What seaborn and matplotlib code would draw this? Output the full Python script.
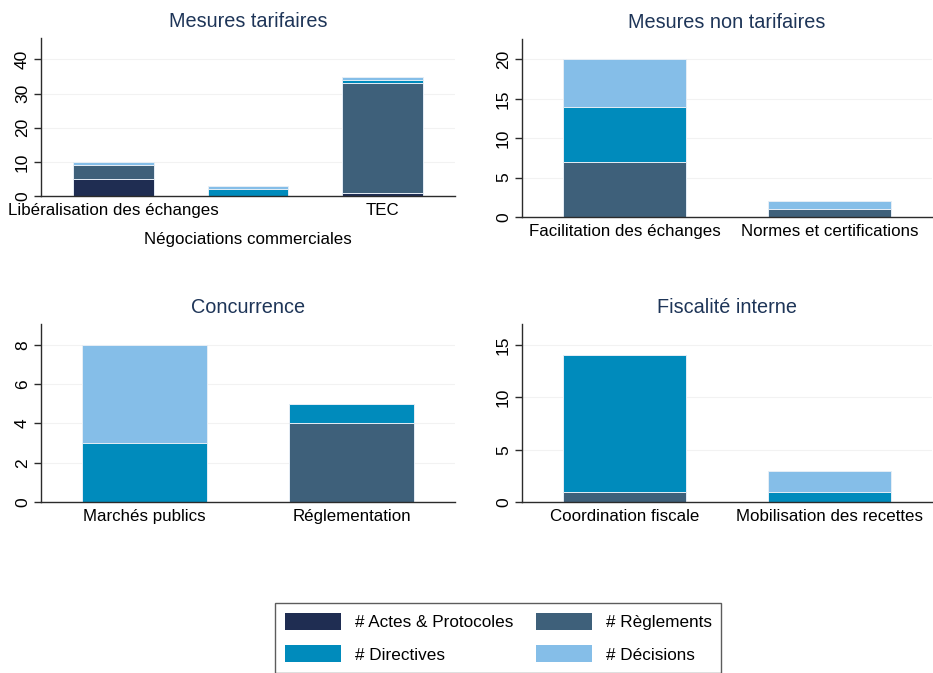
import pandas as pd
import numpy as np
import matplotlib
matplotlib.use("Agg")
import matplotlib.pyplot as plt
from matplotlib.patches import Patch
import seaborn as sns

# types of acts, stacked from bottom to top
act_types = ["# Actes & Protocoles", "# Règlements", "# Directives", "# Décisions"]
act_colors = ["#1f2d52", "#3e607a", "#008bbc", "#85bee8"]

panel_titles = ["Mesures tarifaires", "Mesures non tarifaires", "Concurrence", "Fiscalité interne"]

tarif_cats = ["Libéralisation des échanges", "Négociations commerciales", "TEC"]
tarif_actes = [5, 0, 1]
tarif_reglements = [4, 0, 32]
tarif_directives = [0, 2, 1]
tarif_decisions = [1, 1, 1]

nontarif_cats = ["Facilitation des échanges", "Normes et certifications"]
nontarif_actes = [0, 0]
nontarif_reglements = [7, 1]
nontarif_directives = [7, 0]
nontarif_decisions = [6, 1]

concur_cats = ["Marchés publics", "Réglementation"]
concur_actes = [0, 0]
concur_reglements = [0, 4]
concur_directives = [3, 1]
concur_decisions = [5, 0]

fisc_cats = ["Coordination fiscale", "Mobilisation des recettes"]
fisc_actes = [0, 0]
fisc_reglements = [1, 0]
fisc_directives = [13, 1]
fisc_decisions = [0, 2]

panels = [
    (tarif_cats, [tarif_actes, tarif_reglements, tarif_directives, tarif_decisions]),
    (nontarif_cats, [nontarif_actes, nontarif_reglements, nontarif_directives, nontarif_decisions]),
    (concur_cats, [concur_actes, concur_reglements, concur_directives, concur_decisions]),
    (fisc_cats, [fisc_actes, fisc_reglements, fisc_directives, fisc_decisions]),
]

rows = []
for p, (cats, series) in enumerate(panels):
    for t, vals in zip(act_types, series):
        for c, v in zip(cats, vals):
            rows.append([p, c, t, v])
df = pd.DataFrame(rows, columns=["panel", "cat", "type", "value"])
df["cum"] = df.groupby(["panel", "cat"])["value"].cumsum()

sns.set_theme(style="white")
plt.rcParams["font.family"] = ["Liberation Sans", "DejaVu Sans"]
plt.rcParams["text.color"] = "black"
plt.rcParams["xtick.color"] = "black"
plt.rcParams["ytick.color"] = "black"

fig = plt.figure(figsize=(9.33, 6.73), dpi=100)
W, H = 933, 673

# axes boxes in pixels: left, top, right, bottom
boxes = [(41, 38, 455, 196), (522, 39, 932, 217), (41, 324, 455, 502), (522, 324, 932, 502)]
ylims = [46.3, 22.6, 9.07, 17.0]
yticks = [[0, 10, 20, 30, 40], [0, 5, 10, 15, 20], [0, 2, 4, 6, 8], [0, 5, 10, 15]]
xlims = [(-0.54, 2.54), (-0.5, 1.5), (-0.5, 1.5), (-0.5, 1.5)]

for p, (cats, _) in enumerate(panels):
    l, t, r, b = boxes[p]
    ax = fig.add_axes([l / W, 1 - b / H, (r - l) / W, (b - t) / H])
    ax.set_axisbelow(True)
    ax.yaxis.grid(True, color="#f2f2f2", lw=0.8)
    # draw cumulative totals, tallest first so that lower layers sit on top
    for i in reversed(range(len(act_types))):
        sub = df[(df.panel == p) & (df.type == act_types[i])]
        sns.barplot(data=sub, x="cat", y="cum", order=cats, color=act_colors[i],
                    width=0.6, saturation=1, errorbar=None, edgecolor="#e6eef6",
                    linewidth=0.7, ax=ax)
    ax.set_xlim(*xlims[p])
    ax.set_ylim(0, ylims[p])
    ax.set_yticks(yticks[p])
    ax.set_xlabel("")
    ax.set_ylabel("")
    for s in ["top", "right"]:
        ax.spines[s].set_visible(False)
    for s in ["left", "bottom"]:
        ax.spines[s].set_color("#2b2b2b")
        ax.spines[s].set_linewidth(1.0)
    ax.tick_params(axis="y", length=5, width=1, color="#2b2b2b", labelsize=12.5,
                   labelrotation=90, left=True, pad=3)
    ax.tick_params(axis="x", length=0, labelsize=12.2, pad=5)
    for lab in ax.get_yticklabels():
        lab.set_va("center")
    ax.set_title(panel_titles[p], color="#1e3558", fontsize=14.3, pad=8)
    if p == 0:
        ax.xaxis.get_major_ticks()[1].set_pad(26)

handles = [Patch(facecolor=c, edgecolor="none") for c in act_colors]
order = [0, 2, 1, 3]
leg = fig.legend([handles[i] for i in order], [act_types[i] for i in order],
                 loc="upper left", bbox_to_anchor=(275 / W, 1 - 603 / H), ncol=2,
                 frameon=True, fancybox=False, edgecolor="#333333", fontsize=12.3,
                 handlelength=3.3, handleheight=1.17, handletextpad=0.8,
                 columnspacing=1.3, labelspacing=0.88, borderpad=0.58,
                 borderaxespad=0)
leg.get_frame().set_linewidth(1.0)

fig.savefig("out.png", dpi=100)
